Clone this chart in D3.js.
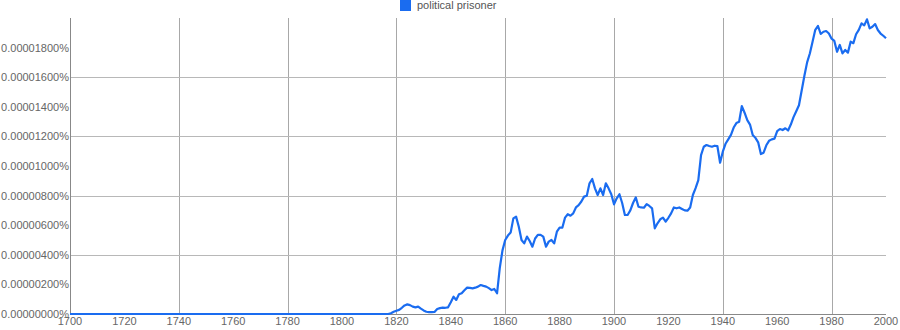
<!DOCTYPE html>
<html>
<head>
<meta charset="utf-8">
<script src="https://cdn.jsdelivr.net/npm/d3@7"></script>
<style>
  body { margin: 0; background: #fff; }
  svg text { font-family: "Liberation Sans", Arial, sans-serif; }
</style>
</head>
<body>
<div id="chart"></div>
<script>
// Series name shown in the legend
const seriesName = "political prisoner";

// Years and values (values in millionths of a percent, i.e. 1 = 0.000001%)
const years = [
  1700, 1817, 1818, 1819, 1820, 1821, 1822, 1823, 1824, 1825, 1826, 1827, 1828, 1829,
  1830, 1831, 1832, 1833, 1834, 1835, 1836, 1837, 1838, 1839, 1840, 1841, 1842, 1843,
  1844, 1845, 1846, 1847, 1848, 1849, 1850, 1851, 1852, 1853, 1854, 1855, 1856, 1857,
  1858, 1859, 1860, 1861, 1862, 1863, 1864, 1865, 1866, 1867, 1868, 1869, 1870, 1871,
  1872, 1873, 1874, 1875, 1876, 1877, 1878, 1879, 1880, 1881, 1882, 1883, 1884, 1885,
  1886, 1887, 1888, 1889, 1890, 1891, 1892, 1893, 1894, 1895, 1896, 1897, 1898, 1899,
  1900, 1901, 1902, 1903, 1904, 1905, 1906, 1907, 1908, 1909, 1910, 1911, 1912, 1913,
  1914, 1915, 1916, 1917, 1918, 1919, 1920, 1921, 1922, 1923, 1924, 1925, 1926, 1927,
  1928, 1929, 1930, 1931, 1932, 1933, 1934, 1935, 1936, 1937, 1938, 1939, 1940, 1941,
  1942, 1943, 1944, 1945, 1946, 1947, 1948, 1949, 1950, 1951, 1952, 1953, 1954, 1955,
  1956, 1957, 1958, 1959, 1960, 1961, 1962, 1963, 1964, 1965, 1966, 1967, 1968, 1969,
  1970, 1971, 1972, 1973, 1974, 1975, 1976, 1977, 1978, 1979, 1980, 1981, 1982, 1983,
  1984, 1985, 1986, 1987, 1988, 1989, 1990, 1991, 1992, 1993, 1994, 1995, 1996, 1997,
  1998, 1999, 2000
];
const values = [
  0, 0, 0.05, 0.15, 0.22, 0.28, 0.42, 0.58, 0.65, 0.6, 0.5, 0.45, 0.5, 0.36,
  0.24, 0.15, 0.13, 0.13, 0.14, 0.34, 0.4, 0.43, 0.42, 0.45, 0.8, 1.17, 0.95, 1.33,
  1.4, 1.6, 1.78, 1.76, 1.73, 1.78, 1.85, 1.96, 1.9, 1.85, 1.75, 1.62, 1.69, 1.4,
  3.1, 4.3, 5.0, 5.3, 5.5, 6.46, 6.58, 5.9, 5.0, 4.77, 5.23, 4.93, 4.55, 5.1,
  5.35, 5.35, 5.23, 4.55, 4.89, 5.0, 4.77, 5.56, 5.83, 5.83, 6.51, 6.74, 6.64, 6.8,
  7.2, 7.35, 7.6, 7.93, 7.99, 8.83, 9.12, 8.49, 8.04, 8.49, 8.04, 8.83, 8.49, 8.09,
  7.41, 7.82, 8.09, 7.5, 6.69, 6.69, 7.0, 7.5, 7.88, 7.25, 7.2, 7.18, 7.43, 7.3,
  7.14, 5.79, 6.13, 6.4, 6.51, 6.24, 6.5, 6.8, 7.2, 7.14, 7.2, 7.1, 7.0, 6.98,
  7.2, 8.04, 8.5, 9.05, 10.74, 11.3, 11.42, 11.35, 11.3, 11.37, 11.35, 10.22, 10.97, 11.5,
  11.8, 12.1, 12.6, 12.9, 12.99, 14.05, 13.6, 13.1, 12.8, 12.1, 11.9, 11.6, 10.81, 10.9,
  11.4, 11.7, 11.8, 11.85, 12.35, 12.5, 12.43, 12.55, 12.4, 12.8, 13.3, 13.7, 14.1, 15.1,
  16.1, 17.0, 17.6, 18.4, 19.2, 19.46, 18.92, 19.07, 19.12, 18.95, 18.6, 18.45, 17.72, 18.18,
  17.61, 17.84, 17.66, 18.4, 18.3, 18.9, 19.2, 19.64, 19.5, 19.91, 19.3, 19.41, 19.59, 19.19,
  18.95, 18.8, 18.63
];

// Axis ticks
const xTicks = [1700, 1720, 1740, 1760, 1780, 1800, 1820, 1840, 1860, 1880, 1900, 1920, 1940, 1960, 1980, 2000];
const yTicks = [0, 2, 4, 6, 8, 10, 12, 14, 16, 18];
const xGrid = [1740, 1780, 1820, 1860, 1900, 1940, 1980];
const yGrid = [4, 8, 12, 16];

const width = 900, height = 330;
const margin = { top: 18, right: 14, bottom: 16, left: 70 };
const lineColor = "#1a6cf0";

const svg = d3.select("#chart").append("svg")
  .attr("width", width)
  .attr("height", height);

const x = d3.scaleLinear()
  .domain([1700, 2000])
  .range([margin.left, width - margin.right]);

const y = d3.scaleLinear()
  .domain([0, 20])
  .range([height - margin.bottom, margin.top]);

// gridlines
svg.append("g").selectAll("line")
  .data(xGrid)
  .join("line")
  .attr("x1", d => Math.round(x(d)) + 0.5)
  .attr("x2", d => Math.round(x(d)) + 0.5)
  .attr("y1", y(20))
  .attr("y2", y(0))
  .attr("stroke", "#a8a8a8")
  .attr("stroke-width", 1);

svg.append("g").selectAll("line")
  .data(yGrid)
  .join("line")
  .attr("x1", x(1700))
  .attr("x2", x(2000))
  .attr("y1", d => Math.round(y(d)) + 0.5)
  .attr("y2", d => Math.round(y(d)) + 0.5)
  .attr("stroke", "#b8b8b8")
  .attr("stroke-width", 1);

// axis lines
svg.append("line")
  .attr("x1", Math.round(x(1700)) + 0.5).attr("x2", Math.round(x(1700)) + 0.5)
  .attr("y1", y(20)).attr("y2", y(0))
  .attr("stroke", "#888");
svg.append("line")
  .attr("x1", x(1700)).attr("x2", x(2000))
  .attr("y1", Math.round(y(0)) + 0.5).attr("y2", Math.round(y(0)) + 0.5)
  .attr("stroke", "#888");

// y labels
const fmt = d => d3.format(".8f")(d / 1e6) + "%";
svg.append("g").selectAll("text")
  .data(yTicks)
  .join("text")
  .attr("x", margin.left - 1)
  .attr("y", d => y(d) + 4)
  .attr("text-anchor", "end")
  .attr("font-size", 11)
  .attr("fill", "#666")
  .text(fmt);

// x labels
svg.append("g").selectAll("text")
  .data(xTicks)
  .join("text")
  .attr("x", d => x(d))
  .attr("y", height - 5)
  .attr("text-anchor", "middle")
  .attr("font-size", 11)
  .attr("fill", "#666")
  .text(d => d);

// the line
const points = years.map((yr, i) => ({ year: yr, value: values[i] }));
const line = d3.line()
  .x(d => x(d.year))
  .y(d => y(d.value));

svg.append("path")
  .datum(points)
  .attr("fill", "none")
  .attr("stroke", lineColor)
  .attr("stroke-width", 2.2)
  .attr("stroke-linejoin", "round")
  .attr("d", line);

// legend
const legend = svg.append("g").attr("transform", "translate(400,0)");
legend.append("rect")
  .attr("x", 0).attr("y", 0)
  .attr("width", 11).attr("height", 11)
  .attr("fill", lineColor);
legend.append("text")
  .attr("x", 17).attr("y", 9)
  .attr("font-size", 11)
  .attr("fill", "#555")
  .text(seriesName);
</script>
</body>
</html>
